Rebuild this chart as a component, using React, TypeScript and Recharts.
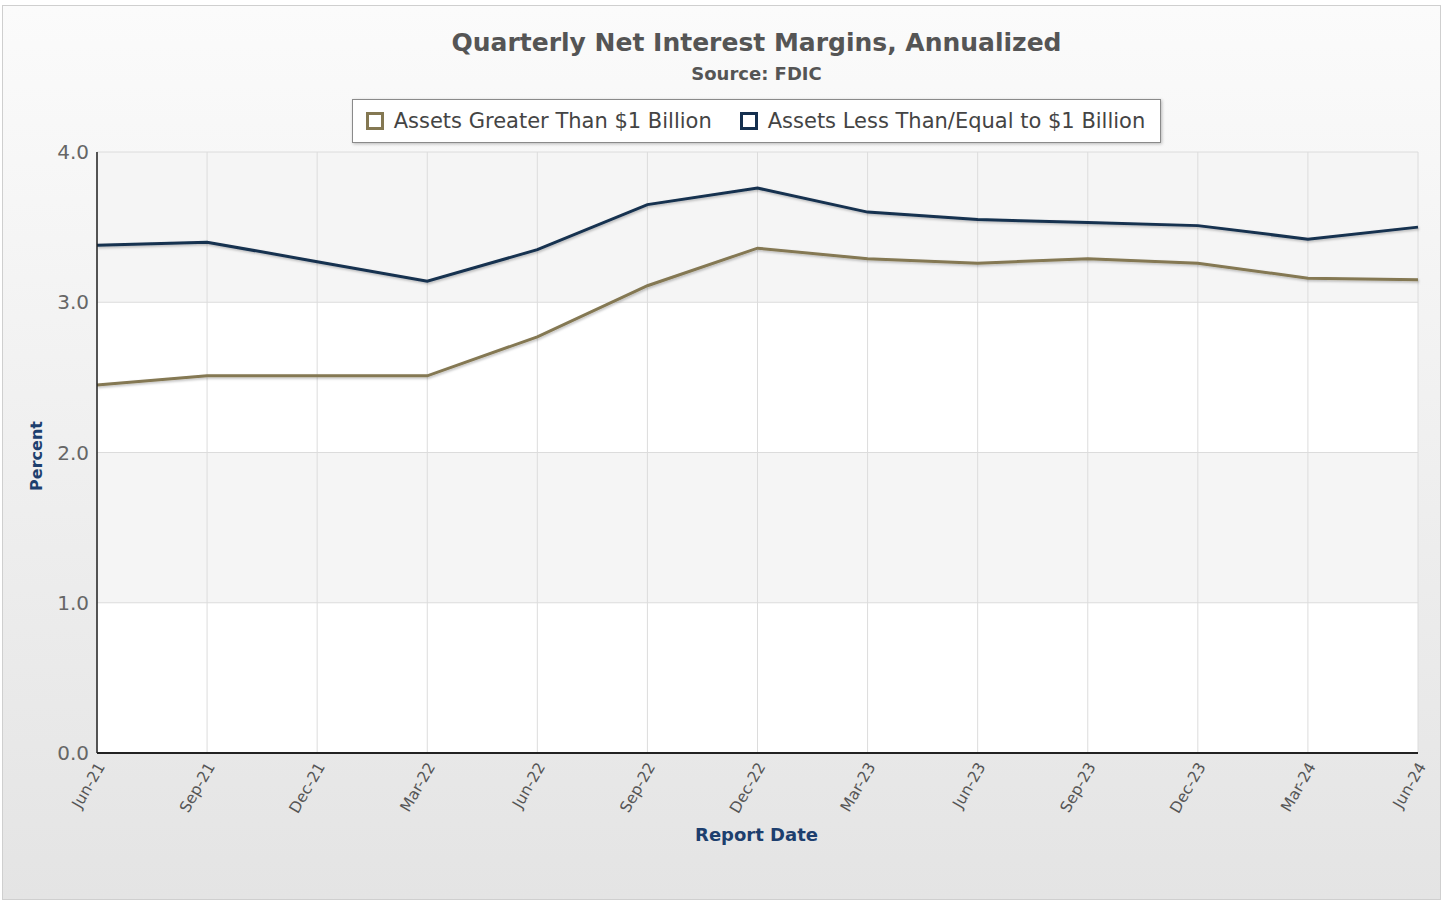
import React from "react";
import {
  LineChart,
  Line,
  XAxis,
  YAxis,
  CartesianGrid,
} from "recharts";

const quarters = [
  "Jun-21", "Sep-21", "Dec-21", "Mar-22", "Jun-22", "Sep-22", "Dec-22",
  "Mar-23", "Jun-23", "Sep-23", "Dec-23", "Mar-24", "Jun-24",
];
const over1B = [2.45, 2.51, 2.51, 2.51, 2.77, 3.11, 3.36, 3.29, 3.26, 3.29, 3.26, 3.16, 3.15];
const under1B = [3.38, 3.40, 3.27, 3.14, 3.35, 3.65, 3.76, 3.60, 3.55, 3.53, 3.51, 3.42, 3.50];
const yTicks = [0, 1, 2, 3, 4];

const data = quarters.map((q, i) => ({ q, big: over1B[i], small: under1B[i] }));

const GOLD = "#847852";
const NAVY = "#15304f";
const AXIS_BLUE = "#1d3f6e";
const FONT = "'DejaVu Sans', Verdana, sans-serif";

const XTick = (props: any) => {
  const { x, y, payload } = props;
  return (
    <g transform={`translate(${x + 4},${y + 3})`}>
      <text
        textAnchor="end"
        transform="rotate(-60)"
        fontSize={15.5}
        fontFamily={FONT}
        fill="#555"
        dy={5}
      >
        {payload.value}
      </text>
    </g>
  );
};

const centered = {
  position: "absolute" as const,
  width: 1437,
  paddingLeft: 70,
  boxSizing: "border-box" as const,
  textAlign: "center" as const,
};

export default function App() {
  return (
    <div
      style={{
        position: "absolute",
        left: 2,
        top: 5,
        width: 1437,
        height: 893,
        border: "1px solid #cfcfcf",
        background: "linear-gradient(#fbfbfb, #e4e4e4)",
        fontFamily: FONT,
      }}
    >
      <div style={{ ...centered, top: 22, fontWeight: "bold", fontSize: 25, color: "#555" }}>
        Quarterly Net Interest Margins, Annualized
      </div>
      <div style={{ ...centered, top: 57, fontWeight: "bold", fontSize: 18, color: "#555" }}>
        Source: FDIC
      </div>
      <div style={{ ...centered, top: 93, display: "flex", justifyContent: "center" }}>
        <div
          style={{
            display: "flex",
            alignItems: "center",
            gap: 28,
            background: "#fff",
            border: "1px solid #8a8a8a",
            boxShadow: "1px 1px 3px rgba(0,0,0,0.25)",
            padding: "0 15px 0 13px",
            height: 42,
            fontSize: 21,
            color: "#444",
            whiteSpace: "nowrap",
          }}
        >
          {[
            { name: "Assets Greater Than $1 Billion", color: GOLD },
            { name: "Assets Less Than/Equal to $1 Billion", color: NAVY },
          ].map((it) => (
            <span key={it.name} style={{ display: "flex", alignItems: "center" }}>
              <span
                style={{
                  width: 12,
                  height: 12,
                  border: `3px solid ${it.color}`,
                  marginRight: 10,
                  background: "#fff",
                }}
              />
              {it.name}
            </span>
          ))}
        </div>
      </div>
      <div
        style={{
          position: "absolute",
          left: 33,
          top: 450,
          transform: "translate(-50%,-50%) rotate(-90deg)",
          fontWeight: "bold",
          fontSize: 16,
          color: AXIS_BLUE,
        }}
      >
        Percent
      </div>
      <div style={{ ...centered, top: 818, fontWeight: "bold", fontSize: 18, color: AXIS_BLUE }}>
        Report Date
      </div>
      <LineChart
        width={1437}
        height={893}
        data={data}
        margin={{ top: 146, right: 22, bottom: 76, left: 54 }}
      >
        <defs>
          <filter id="lineShadow" x="-5%" y="-20%" width="110%" height="140%">
            <feDropShadow dx="1" dy="1.5" stdDeviation="1" floodColor="#000" floodOpacity="0.25" />
          </filter>
        </defs>
        <CartesianGrid
          stroke="#dcdcdc"
          strokeWidth={1}
          horizontalFill={["#f5f5f5", "#ffffff"]}
          fillOpacity={1}
        />
        <XAxis
          dataKey="q"
          interval={0}
          height={70}
          tick={<XTick />}
          tickLine={false}
          axisLine={{ stroke: "#222", strokeWidth: 2 }}
        />
        <YAxis
          domain={[0, 4]}
          ticks={yTicks}
          width={40}
          tickFormatter={(v: number) => v.toFixed(1)}
          tick={{ fontSize: 20, fill: "#666", fontFamily: FONT }}
          tickLine={false}
          axisLine={{ stroke: "#222", strokeWidth: 1.5 }}
        />
        <Line
          dataKey="big"
          name="Assets Greater Than $1 Billion"
          stroke={GOLD}
          strokeWidth={3}
          dot={false}
          filter="url(#lineShadow)"
          isAnimationActive={false}
        />
        <Line
          dataKey="small"
          name="Assets Less Than/Equal to $1 Billion"
          stroke={NAVY}
          strokeWidth={3}
          dot={false}
          filter="url(#lineShadow)"
          isAnimationActive={false}
        />
      </LineChart>
    </div>
  );
}
